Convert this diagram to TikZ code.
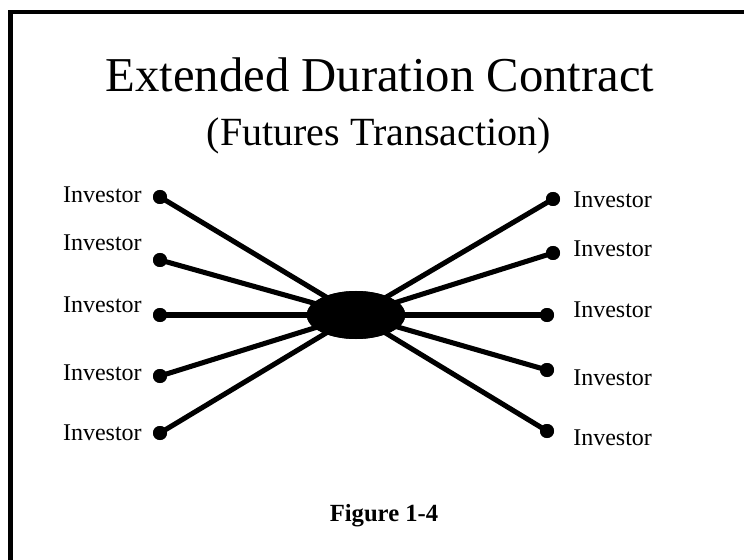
\documentclass[tikz,border=0pt]{standalone}
\usepackage{fontspec}
\setmainfont{Liberation Serif}
\usetikzlibrary{shapes.geometric}
\begin{document}
\begin{tikzpicture}[x=0.75pt,y=-0.75pt,
  dot/.style={circle,fill=black,inner sep=0pt,minimum size=10.5pt},
  hubnode/.style={ellipse,fill=black,inner sep=0pt,minimum width=74pt,minimum height=36pt},
  link/.style={line width=3.8pt},
  frame/.style={line width=3.6pt},
  lbl/.style={font=\fontsize{18}{20}\selectfont,inner sep=0pt},
  ttl/.style={font=\fontsize{36.5}{40}\selectfont,inner sep=0pt},
  subttl/.style={font=\fontsize{30}{34}\selectfont,inner sep=0pt},
  figcap/.style={font=\fontsize{18.5}{21}\selectfont\bfseries,inner sep=0pt}]
\useasboundingbox (0,0) rectangle (744,560);
% frame (right and bottom sides lie outside the picture)
\coordinate (fbl) at (10.5,562);
\coordinate (ftl) at (10.5,12);
\coordinate (ftr) at (746,12);
\draw[frame] (fbl) -- (ftl) -- (ftr);
% titles
\node[ttl,anchor=base] (title) at (380,92) {Extended Duration Contract};
\node[subttl,anchor=base] (sub) at (379,146) {(Futures Transaction)};
% hub
\node[hubnode] (hub) at (356,315) {};
% left dots
\node[dot] (l1) at (160,197) {};
\node[dot] (l2) at (160,260) {};
\node[dot] (l3) at (160,315) {};
\node[dot] (l4) at (160,376) {};
\node[dot] (l5) at (160,433) {};
% right dots
\node[dot] (r1) at (553,199) {};
\node[dot] (r2) at (553,253) {};
\node[dot] (r3) at (547,315) {};
\node[dot] (r4) at (547,370) {};
\node[dot] (r5) at (547,431) {};
% connectors
\foreach \n in {l1,l2,l3,l4,l5,r1,r2,r3,r4,r5}
  \draw[link] (\n.center) -- (hub.center);
\node[hubnode] at (hub.center) {};
\foreach \n in {l1,l2,l3,l4,l5,r1,r2,r3,r4,r5}
  \node[dot] at (\n.center) {};
% left labels
\node[lbl,anchor=base east] (tl1) at (142,203) {Investor};
\node[lbl,anchor=base east] (tl2) at (142,251) {Investor};
\node[lbl,anchor=base east] (tl3) at (142,312) {Investor};
\node[lbl,anchor=base east] (tl4) at (142,380) {Investor};
\node[lbl,anchor=base east] (tl5) at (142,440) {Investor};
% right labels
\node[lbl,anchor=base west] (tr1) at (573,208) {Investor};
\node[lbl,anchor=base west] (tr2) at (573,257) {Investor};
\node[lbl,anchor=base west] (tr3) at (573,317) {Investor};
\node[lbl,anchor=base west] (tr4) at (573,385) {Investor};
\node[lbl,anchor=base west] (tr5) at (573,445) {Investor};
% caption
\node[figcap,anchor=base] (fig) at (384,521) {Figure 1-4};
\end{tikzpicture}
\end{document}
